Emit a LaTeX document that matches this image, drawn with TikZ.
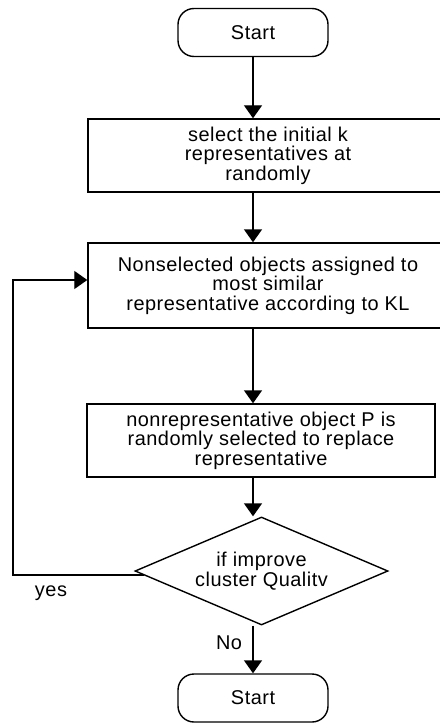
\documentclass[tikz,border=0pt]{standalone}
\usepackage{fontspec}
\setmainfont{Liberation Sans}[LetterSpace=2.5]
\usetikzlibrary{positioning,arrows.meta,shapes.geometric}

\begin{document}
\begin{tikzpicture}[x=1bp,y=-1bp,
  every node/.style={font=\fontsize{20}{19.5}\selectfont, align=center},
  term/.style={draw, line width=1.4bp, rounded corners=16bp, minimum width=150bp, minimum height=48bp},
  proc/.style={draw, line width=1.4bp, minimum height=73bp, inner sep=0pt},
  flow/.style={line width=1.4bp, -{Triangle[width=18bp,length=13bp]}}]
  \useasboundingbox (0,0) rectangle (440,723);

  % Steps
  \node[term] (start) at (253,32.5) {Start};
  \node[proc, minimum width=360bp] (sel) at (268,155.5)
    {select the initial k\\representatives at\\randomly};
  \node[proc, minimum width=360bp, minimum height=85bp] (assign) at (268,285.5)
    {Nonselected objects assigned to\\most similar\\representative according to KL};
  \node[proc, minimum width=348bp] (repl) at (261,440.5)
    {nonrepresentative object P is\\randomly selected to replace\\representative};
  \node[diamond, draw, line width=1.4bp, aspect=2.34, inner sep=0pt,
    minimum width=253bp, minimum height=108bp] (dec) at (261.5,571)
    {if improve\\cluster Qualitv};
  \node[term] (stop) at (253,698) {Start};

  % Arrows
  \draw[flow] (start) -- (start |- sel.north);
  \draw[flow] (sel.south -| start) -- (assign.north -| start);
  \draw[flow] (assign.south -| start) -- (repl.north -| start);
  \draw[flow] (repl.south -| start) -- (dec.north -| start);
  \draw[flow] (dec.south -| start) -- (stop);

  % Loop back
  \coordinate (back) at (13,280);
  \draw[flow] (dec.182) -| (back) -- (assign.west |- back);

  % Labels
  \node (yes) at (51,593) {yes};
  \node (no) at (229,643) {No};
\end{tikzpicture}
\end{document}
